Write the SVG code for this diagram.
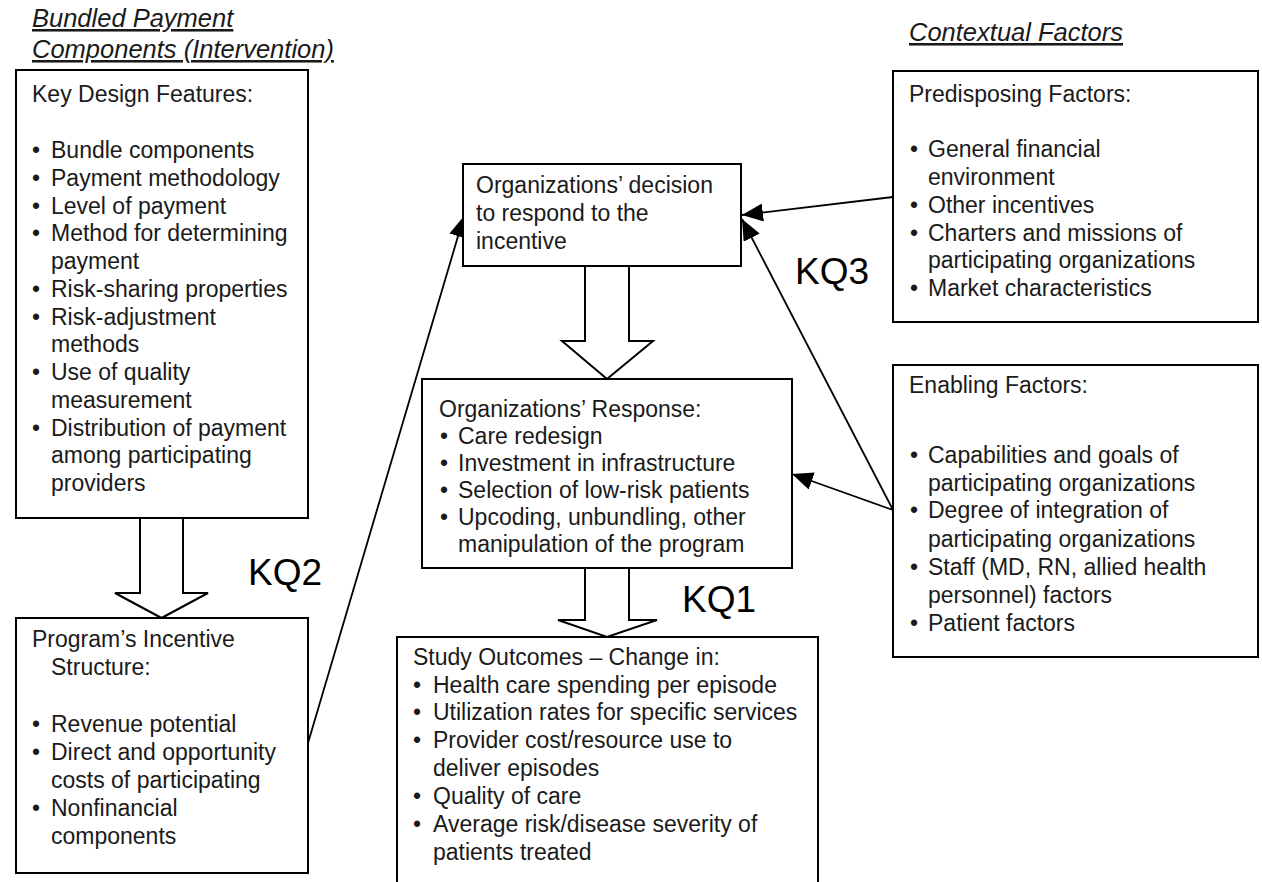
<svg xmlns="http://www.w3.org/2000/svg" width="1262" height="882" viewBox="0 0 1262 882">
<defs>
<style>
.box{fill:#fff;stroke:#000;stroke-width:2}
.t{font-family:"Liberation Sans",Arial,sans-serif;font-size:23px;fill:#1a1a1a}
.h{font-family:"Liberation Sans",Arial,sans-serif;font-size:25.5px;font-style:italic;fill:#1a1a1a;text-decoration:underline}
.kq{font-family:"Liberation Sans",Arial,sans-serif;font-size:37px;fill:#000}
.conn{stroke:#000;stroke-width:1.8;fill:none}
.hollow{fill:#fff;stroke:#000;stroke-width:2;stroke-linejoin:miter}
</style>
<marker id="ah" markerUnits="userSpaceOnUse" markerWidth="24" markerHeight="18" refX="21" refY="9" orient="auto">
<path d="M0,0 L21,9 L0,18 Z" fill="#000"/>
</marker>
</defs>
<rect width="1262" height="882" fill="#fff"/>

<g id="headers">
<text class="h" x="32" y="27">Bundled Payment</text>
<text class="h" x="32" y="58">Components (Intervention)</text>
<text class="h" x="909" y="41">Contextual Factors</text>
</g>

<g id="connectors">
<polygon class="hollow" points="140,518 183,518 183,593 208,593 161.5,618 115,593 140,593"/>
<polygon class="hollow" points="585,266 629,266 629,341 653,341 607,379 562,341 585,341"/>
<polygon class="hollow" points="585,568 629,568 629,620 657,620 607,637 558,620 585,620"/>
<line class="conn" x1="308" y1="743" x2="464" y2="216" marker-end="url(#ah)"/>
<line class="conn" x1="893" y1="197" x2="742" y2="215" marker-end="url(#ah)"/>
<line class="conn" x1="893" y1="510" x2="742" y2="219" marker-end="url(#ah)"/>
<line class="conn" x1="893" y1="510" x2="792" y2="474" marker-end="url(#ah)"/>
</g>

<g id="kq-labels">
<text class="kq" x="248" y="585">KQ2</text>
<text class="kq" x="682" y="612">KQ1</text>
<text class="kq" x="795" y="284">KQ3</text>
</g>

<g id="key-design">
<rect class="box" x="16" y="70" width="292" height="448"/>
<text class="t" x="32" y="102">Key Design Features:</text>
<g class="t">
<text x="32" y="158">•</text><text x="51" y="158">Bundle components</text>
<text x="32" y="185.75">•</text><text x="51" y="185.75">Payment methodology</text>
<text x="32" y="213.5">•</text><text x="51" y="213.5">Level of payment</text>
<text x="32" y="241.25">•</text><text x="51" y="241.25">Method for determining</text>
<text x="51" y="269">payment</text>
<text x="32" y="296.75">•</text><text x="51" y="296.75">Risk-sharing properties</text>
<text x="32" y="324.5">•</text><text x="51" y="324.5">Risk-adjustment</text>
<text x="51" y="352.25">methods</text>
<text x="32" y="380">•</text><text x="51" y="380">Use of quality</text>
<text x="51" y="407.75">measurement</text>
<text x="32" y="435.5">•</text><text x="51" y="435.5">Distribution of payment</text>
<text x="51" y="463.25">among participating</text>
<text x="51" y="491">providers</text>
</g>
</g>

<g id="incentive-structure">
<rect class="box" x="16" y="618" width="292" height="255"/>
<g class="t">
<text x="32" y="647">Program’s Incentive</text>
<text x="51" y="675">Structure:</text>
<text x="32" y="732">•</text><text x="51" y="732">Revenue potential</text>
<text x="32" y="760">•</text><text x="51" y="760">Direct and opportunity</text>
<text x="51" y="788">costs of participating</text>
<text x="32" y="816">•</text><text x="51" y="816">Nonfinancial</text>
<text x="51" y="844">components</text>
</g>
</g>

<g id="decision">
<rect class="box" x="463" y="164" width="278" height="102"/>
<g class="t">
<text x="476" y="193">Organizations’ decision</text>
<text x="476" y="221">to respond to the</text>
<text x="476" y="249">incentive</text>
</g>
</g>

<g id="response">
<rect class="box" x="422" y="379" width="370" height="189"/>
<g class="t">
<text x="439" y="417">Organizations’ Response:</text>
<text x="440" y="444">•</text><text x="458" y="444">Care redesign</text>
<text x="440" y="471">•</text><text x="458" y="471">Investment in infrastructure</text>
<text x="440" y="498">•</text><text x="458" y="498">Selection of low-risk patients</text>
<text x="440" y="525">•</text><text x="458" y="525">Upcoding, unbundling, other</text>
<text x="458" y="552">manipulation of the program</text>
</g>
</g>

<g id="outcomes">
<rect class="box" x="397" y="637" width="421" height="270"/>
<g class="t">
<text x="413" y="665">Study Outcomes – Change in:</text>
<text x="413" y="693">•</text><text x="433" y="693">Health care spending per episode</text>
<text x="413" y="720">•</text><text x="433" y="720">Utilization rates for specific services</text>
<text x="413" y="748">•</text><text x="433" y="748">Provider cost/resource use to</text>
<text x="433" y="776">deliver episodes</text>
<text x="413" y="804">•</text><text x="433" y="804">Quality of care</text>
<text x="413" y="832">•</text><text x="433" y="832">Average risk/disease severity of</text>
<text x="433" y="860">patients treated</text>
</g>
</g>

<g id="predisposing">
<rect class="box" x="893" y="71" width="365" height="251"/>
<g class="t">
<text x="909" y="102">Predisposing Factors:</text>
<text x="910" y="157">•</text><text x="928" y="157">General financial</text>
<text x="928" y="185">environment</text>
<text x="910" y="213">•</text><text x="928" y="213">Other incentives</text>
<text x="910" y="241">•</text><text x="928" y="241">Charters and missions of</text>
<text x="928" y="268">participating organizations</text>
<text x="910" y="296">•</text><text x="928" y="296">Market characteristics</text>
</g>
</g>

<g id="enabling">
<rect class="box" x="893" y="365" width="365" height="292"/>
<g class="t">
<text x="909" y="393">Enabling Factors:</text>
<text x="910" y="463">•</text><text x="928" y="463">Capabilities and goals of</text>
<text x="928" y="491">participating organizations</text>
<text x="910" y="518">•</text><text x="928" y="518">Degree of integration of</text>
<text x="928" y="547">participating organizations</text>
<text x="910" y="575">•</text><text x="928" y="575">Staff (MD, RN, allied health</text>
<text x="928" y="603">personnel) factors</text>
<text x="910" y="631">•</text><text x="928" y="631">Patient factors</text>
</g>
</g>
</svg>
